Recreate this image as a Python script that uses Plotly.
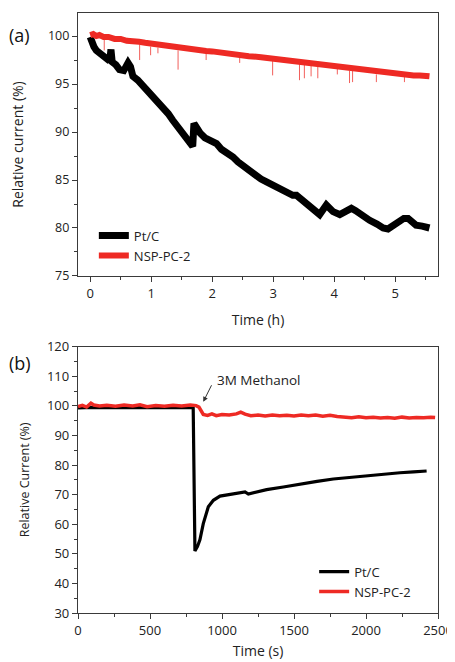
import plotly.graph_objects as go

# ---------------- data: panel (a) ----------------
ptc_a_time_h = [0.00, 0.02, 0.06, 0.10, 0.15, 0.20, 0.26, 0.32, 0.34, 0.36, 0.42, 0.48, 0.55,
                0.62, 0.66, 0.70, 0.78, 0.85, 0.92, 1.00, 1.07, 1.14, 1.20, 1.28, 1.35, 1.42,
                1.50, 1.57, 1.62, 1.66, 1.68, 1.70, 1.74, 1.80, 1.88, 1.95, 2.07, 2.15, 2.25,
                2.34, 2.42, 2.50, 2.61, 2.70, 2.80, 2.89, 3.00, 3.10, 3.16, 3.25, 3.32, 3.38,
                3.46, 3.54, 3.65, 3.76, 3.87, 3.98, 4.09, 4.18, 4.28, 4.35, 4.41, 4.50, 4.58,
                4.70, 4.80, 4.88, 4.96, 5.07, 5.14, 5.21, 5.28, 5.34, 5.44, 5.53, 5.56]
ptc_a_value = [99.9, 99.4, 98.9, 98.5, 98.2, 97.9, 97.7, 97.4, 98.6, 97.3, 97.0, 96.5, 96.4,
               97.2, 96.8, 95.8, 95.4, 94.9, 94.4, 93.8, 93.4, 93.0, 92.6, 91.9, 91.25, 90.6,
               90.0, 89.5, 89.0, 88.6, 88.5, 90.9, 90.4, 89.9, 89.4, 89.1, 88.8, 88.2, 87.8,
               87.4, 86.9, 86.5, 86.0, 85.5, 85.1, 84.8, 84.4, 84.0, 83.8, 83.6, 83.4, 83.4,
               83.0, 82.6, 82.0, 81.4, 82.4, 81.7, 81.4, 81.7, 82.05, 81.8, 81.5, 81.1, 80.8,
               80.4, 80.0, 79.9, 80.3, 80.8, 81.0, 81.0, 80.6, 80.3, 80.2, 80.0, 80.0]

# NSP-PC-2 main band
nsp_a_time_h = [0.00, 0.05, 0.10, 0.15, 0.22, 0.30, 0.40, 0.50, 0.60, 0.70, 0.80, 0.90, 1.00,
                1.10, 1.20, 1.30, 1.44, 1.55, 1.70, 1.80, 1.90, 2.00, 2.20, 2.40, 2.50, 2.60,
                2.80, 3.00, 3.10, 3.20, 3.30, 3.43, 3.50, 3.62, 3.73, 3.90, 4.00, 4.10, 4.25,
                4.40, 4.50, 4.69, 4.80, 4.90, 5.00, 5.10, 5.20, 5.30, 5.40, 5.50, 5.56]
nsp_a_value = [100.1, 100.2, 100.0, 100.1, 99.9, 99.9, 99.7, 99.7, 99.5, 99.5, 99.4, 99.3, 99.2,
               99.1, 99.0, 98.9, 98.8, 98.7, 98.6, 98.5, 98.45, 98.4, 98.2, 98.1, 98.0, 97.9,
               97.8, 97.65, 97.6, 97.5, 97.4, 97.35, 97.3, 97.2, 97.1, 96.9, 96.9, 96.8, 96.65,
               96.5, 96.4, 96.3, 96.2, 96.2, 96.1, 96.0, 96.0, 95.9, 95.9, 95.8, 95.8]
# NSP-PC-2 downward noise spikes: time, band edge, spike tip
nsp_a_spike_time_h = [0.23, 0.81, 0.99, 1.11, 1.44, 1.90, 2.99, 3.43, 3.51, 3.62, 3.73, 4.25,
                      4.30, 4.69, 2.45, 4.05, 5.15]
nsp_a_spike_top = [99.6, 99.1, 98.9, 98.8, 98.5, 98.2, 97.4, 97.1, 97.0, 96.9, 96.8, 96.4,
                   96.4, 96.0, 97.8, 96.6, 95.8]
nsp_a_spike_tip = [98.5, 97.5, 98.0, 98.2, 96.5, 97.5, 95.9, 95.4, 95.6, 95.8, 95.6, 95.1,
                   95.2, 95.2, 97.2, 96.0, 95.2]

# ---------------- data: panel (b) ----------------
ptc_b_time_s = [0, 100, 200, 300, 400, 500, 600, 700, 790, 800, 812, 830, 847, 870, 905, 940,
                986, 1056, 1125, 1160, 1183, 1210, 1241, 1310, 1426, 1542, 1660, 1773, 1890,
                2005, 2120, 2236, 2330, 2421]
ptc_b_value = [99.3, 99.5, 99.4, 99.4, 99.4, 99.4, 99.4, 99.5, 99.5, 99.4, 51.0, 52.5, 54.8,
               60.2, 65.9, 68.1, 69.5, 70.0, 70.6, 70.9, 70.2, 70.5, 70.9, 71.7, 72.6, 73.6,
               74.5, 75.3, 75.9, 76.4, 76.9, 77.4, 77.7, 78.0]

nsp_b_time_s = [0, 30, 60, 90, 110, 150, 200, 260, 320, 380, 430, 480, 540, 600, 660, 720, 780,
                820, 840, 855, 870, 900, 930, 960, 1000, 1050, 1100, 1130, 1160, 1200, 1250,
                1300, 1350, 1400, 1450, 1500, 1550, 1600, 1650, 1700, 1750, 1800, 1850, 1900,
                1950, 2000, 2050, 2100, 2150, 2200, 2250, 2300, 2350, 2400, 2450, 2480]
nsp_b_value = [99.8, 100.2, 99.6, 100.9, 100.3, 100.0, 100.2, 99.9, 100.3, 100.0, 100.4, 99.7,
               100.1, 99.9, 100.2, 100.0, 100.3, 100.1, 99.6, 98.0, 97.1, 96.8, 97.3, 96.7,
               97.1, 96.9, 97.3, 97.9, 97.2, 96.7, 96.9, 96.6, 96.9, 96.7, 96.8, 96.6, 96.9,
               96.7, 96.9, 96.5, 96.8, 96.4, 96.2, 96.0, 96.3, 96.0, 96.2, 95.9, 96.1, 95.8,
               96.2, 95.9, 96.1, 96.0, 96.2, 96.1]

series_names = ["Pt/C", "NSP-PC-2"]
BLACK = "#000000"
RED = "#ee2a24"

fig = go.Figure()

# panel (a)
fig.add_trace(go.Scatter(x=ptc_a_time_h, y=ptc_a_value, mode="lines", name=series_names[0],
                         xaxis="x", yaxis="y", line=dict(color=BLACK, width=7), legend="legend"))
spike_x, spike_y = [], []
for t, top, tip in zip(nsp_a_spike_time_h, nsp_a_spike_top, nsp_a_spike_tip):
    spike_x += [t, t, None]
    spike_y += [top, tip, None]
fig.add_trace(go.Scatter(x=spike_x, y=spike_y, mode="lines", xaxis="x", yaxis="y",
                         line=dict(color="rgba(238,42,36,0.75)", width=1), showlegend=False,
                         hoverinfo="skip"))
fig.add_trace(go.Scatter(x=nsp_a_time_h, y=nsp_a_value, mode="lines", name=series_names[1],
                         xaxis="x", yaxis="y", line=dict(color=RED, width=6), legend="legend"))

# panel (b)
fig.add_trace(go.Scatter(x=ptc_b_time_s, y=ptc_b_value, mode="lines", name=series_names[0],
                         xaxis="x2", yaxis="y2", line=dict(color=BLACK, width=3.2), legend="legend2"))
fig.add_trace(go.Scatter(x=nsp_b_time_s, y=nsp_b_value, mode="lines", name=series_names[1],
                         xaxis="x2", yaxis="y2", line=dict(color=RED, width=3.5), legend="legend2"))

FONT = "Open Sans"
AXC = "#3a3a3a"

def axis(**kw):
    base = dict(showline=True, linecolor=AXC, linewidth=1.3, mirror=True, showgrid=False,
                zeroline=False, ticks="outside", ticklen=5, tickwidth=1.2, tickcolor=AXC,
                automargin=False,
                tickfont=dict(family=FONT, size=13, color="#222"))
    base.update(kw)
    return base

# page has an 8px body margin, so the figure is 8px smaller and shifted
OFF = 8
W, H = 455 - OFF, 662 - OFF
l, r, t, b = 78 - OFF, 17, 13 - OFF, 49

fig.update_layout(
    width=W, height=H,
    paper_bgcolor="white", plot_bgcolor="white",
    margin=dict(l=l, r=r, t=t, b=b),
    font=dict(family=FONT, color="#222"),
    xaxis=axis(domain=[0, 1], anchor="y", range=[-0.2, 5.7], dtick=1, tick0=0,
               minor=dict(ticks="outside", ticklen=3, dtick=0.5, tickcolor=AXC),
               title=dict(text="Time (h)", font=dict(family=FONT, size=14), standoff=14)),
    yaxis=axis(domain=[0.5617, 1.0], anchor="x", range=[75, 102.4], dtick=5, tick0=75,
               tickfont=dict(family=FONT, size=12.5, color="#222"),
               minor=dict(ticks="outside", ticklen=3, dtick=2.5, tickcolor=AXC),
               title=dict(text="Relative current (%)", font=dict(family=FONT, size=14), standoff=20)),
    xaxis2=axis(domain=[0, 1], anchor="y2", range=[0, 2500], dtick=500, tick0=0,
                minor=dict(ticks="outside", ticklen=3, dtick=250, tickcolor=AXC),
                title=dict(text="Time (s)", font=dict(family=FONT, size=14), standoff=8)),
    yaxis2=axis(domain=[0.0, 0.4438], anchor="x2", range=[30, 120], dtick=10, tick0=30,
                minor=dict(ticks="outside", ticklen=3, dtick=5, tickcolor=AXC),
                title=dict(text="Relative Current (%)", font=dict(family=FONT, size=12.5), standoff=14)),
    legend=dict(x=0.044, y=0.654, xanchor="left", yanchor="top", bgcolor="rgba(0,0,0,0)",
                font=dict(family=FONT, size=13, color="#222"), tracegroupgap=0),
    legend2=dict(x=0.656, y=0.094, xanchor="left", yanchor="top", bgcolor="rgba(0,0,0,0)",
                 font=dict(family=FONT, size=13, color="#222"), tracegroupgap=0),
    annotations=[
        dict(text="(a)", x=0, y=0, showarrow=False, xanchor="center", yanchor="middle",
             font=dict(family=FONT, size=18, color="#111")),
        dict(text="(b)", x=0, y=0, showarrow=False, xanchor="center", yanchor="middle",
             font=dict(family=FONT, size=18, color="#111")),
        dict(text="3M Methanol", x=1257, y=108.7, xref="x2", yref="y2", showarrow=False,
             font=dict(family=FONT, size=13.5, color="#222")),
        dict(text="", x=870, y=101.4, xref="x2", yref="y2", showarrow=True, ax=9, ay=-18,
             arrowhead=2, arrowsize=1, arrowwidth=1, arrowcolor="#333"),
    ],
)

# place panel labels at their page-pixel positions
pw, ph = W - l - r, H - t - b
anns = list(fig.layout.annotations)
for i, (px, py) in enumerate([(20, 35), (20, 363)]):
    fx, fy = px - OFF, py - OFF
    anns[i].update(x=(fx - l) / pw, y=(H - b - fy) / ph, xref="paper", yref="paper")
fig.layout.annotations = anns

fig.write_html("out.html")
